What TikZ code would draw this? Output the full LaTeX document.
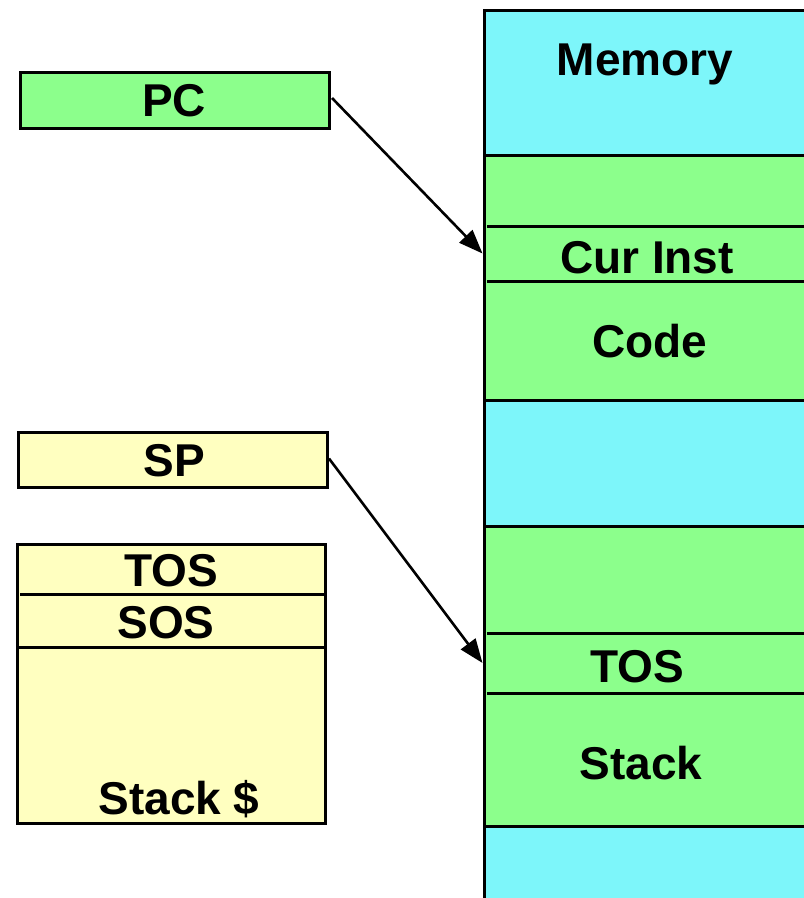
\documentclass[tikz,border=0pt]{standalone}
\usepackage{fontspec}
\setmainfont{Liberation Sans}
\usetikzlibrary{arrows.meta}
\definecolor{memcyan}{RGB}{125,246,250}
\definecolor{regreen}{RGB}{140,255,140}
\definecolor{paleyellow}{RGB}{255,255,192}
\begin{document}
\begin{tikzpicture}[x=1pt,y=-1pt,
  box/.style={draw=black,line width=3pt,inner sep=0pt,outer sep=0pt,anchor=north west},
  slot/.style={inner sep=0pt,outer sep=0pt,anchor=north west},
  lbl/.style={inner sep=0pt,text height=33pt,text depth=0pt,font=\fontsize{46}{50}\selectfont\bfseries},
  ptr/.style={line width=2.6pt,-{Triangle[length=24pt,width=18pt]}},
  divider/.style={line width=3pt}]
\useasboundingbox (0,0) rectangle (804,898);
\clip (0,0) rectangle (804,898);

% memory column, running off the right and bottom edges
\node[box,fill=memcyan,minimum width=360pt,minimum height=920pt] (mem) at (484,10) {};
\node[box,fill=regreen,minimum width=360pt,minimum height=245pt] (code) at (484,155) {};
\node[box,fill=regreen,minimum width=360pt,minimum height=300pt] (stk) at (484,526) {};
\node[slot,minimum width=360pt,minimum height=55pt] (curinst) at (484,226) {};
\node[slot,minimum width=360pt,minimum height=60pt] (tosrow) at (484,633) {};
\draw[divider] ([xshift=3pt]curinst.north west) -- (curinst.north east);
\draw[divider] ([xshift=3pt]curinst.south west) -- (curinst.south east);
\draw[divider] ([xshift=3pt]tosrow.north west) -- (tosrow.north east);
\draw[divider] ([xshift=3pt]tosrow.south west) -- (tosrow.south east);

\node[lbl] (memlbl) at (645,59) {Memory};
\node[lbl] (curlbl) at (647,257) {Cur Inst};
\node[lbl] (codelbl) at (650,341) {Code};
\node[lbl] (toslbl) at (637,666) {TOS};
\node[lbl] (stacklbl) at (641,763) {Stack};

% registers
\node[box,fill=regreen,minimum width=309pt,minimum height=56pt] (pc) at (20,72) {};
\node[lbl] (pclbl) at (174,100) {PC};
\node[box,fill=paleyellow,minimum width=309pt,minimum height=55pt] (sp) at (18,432) {};
\node[lbl] (splbl) at (174,460) {SP};

% stack cache
\node[box,fill=paleyellow,minimum width=308pt,minimum height=279pt] (cache) at (17,544) {};
\coordinate (c1w) at (20,594);
\coordinate (c1e) at (327,594);
\coordinate (c2w) at (17,647);
\coordinate (c2e) at (325,647);
\draw[divider] (c1w) -- (c1e);
\draw[divider] (c2w) -- (c2e);
\node[lbl] (ctos) at (171,570) {TOS};
\node[lbl] (csos) at (166,622) {SOS};
\node[lbl] (cname) at (179,798) {Stack \$};

% pointers
\draw[ptr] ([shift={(3pt,2pt)}]pc.east) -- ([xshift=-1.5pt]curinst.west);
\draw[ptr] ([shift={(2pt,1pt)}]sp.east) -- ([xshift=-1.5pt]tosrow.west);
\end{tikzpicture}
\end{document}
